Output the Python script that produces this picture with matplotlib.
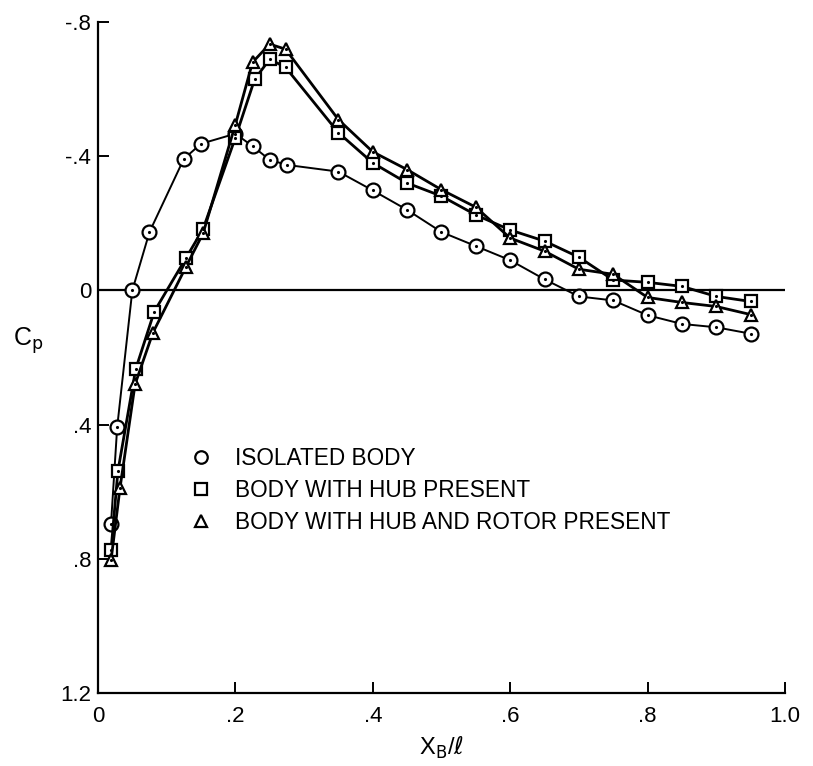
import matplotlib
matplotlib.use('Agg')
from matplotlib import pyplot as plt
from matplotlib.lines import Line2D

# isolated body (circles)
x_iso = [0.019, 0.028, 0.05, 0.075, 0.125, 0.15, 0.2, 0.225, 0.25, 0.275, 0.35, 0.4,
         0.45, 0.5, 0.55, 0.6, 0.65, 0.7, 0.75, 0.8, 0.85, 0.9, 0.95]
cp_iso = [0.695, 0.407, 0.0, -0.174, -0.392, -0.437, -0.467, -0.43, -0.389, -0.374, -0.354, -0.298,
          -0.24, -0.174, -0.132, -0.09, -0.033, 0.018, 0.03, 0.074, 0.10, 0.11, 0.129]

# body with hub present (squares)
x_hub = [0.019, 0.029, 0.055, 0.082, 0.128, 0.153, 0.2, 0.228, 0.25, 0.273, 0.35, 0.4,
         0.45, 0.5, 0.55, 0.6, 0.65, 0.7, 0.75, 0.8, 0.85, 0.9, 0.95]
cp_hub = [0.775, 0.539, 0.234, 0.063, -0.096, -0.183, -0.455, -0.629, -0.689, -0.665, -0.47, -0.38,
          -0.32, -0.281, -0.225, -0.18, -0.147, -0.099, -0.031, -0.024, -0.012, 0.018, 0.033]

# body with hub and rotor present (triangles)
x_rot = [0.019, 0.032, 0.054, 0.08, 0.128, 0.153, 0.2, 0.225, 0.25, 0.273, 0.35, 0.4,
         0.45, 0.5, 0.55, 0.6, 0.65, 0.7, 0.75, 0.8, 0.85, 0.9, 0.95]
cp_rot = [0.805, 0.59, 0.28, 0.126, -0.07, -0.17, -0.494, -0.68, -0.734, -0.719, -0.509, -0.413,
          -0.36, -0.30, -0.248, -0.156, -0.117, -0.063, -0.048, 0.021, 0.036, 0.048, 0.072]

labels = ['ISOLATED BODY', 'BODY WITH HUB PRESENT', 'BODY WITH HUB AND ROTOR PRESENT']
xticks = [0, 0.2, 0.4, 0.6, 0.8, 1.0]
xticklabels = ['0', '.2', '.4', '.6', '.8', '1.0']
yticks = [-0.8, -0.4, 0, 0.4, 0.8, 1.2]
yticklabels = ['-.8', '-.4', '0', '.4', '.8', '1.2']

plt.rcParams['font.family'] = ['Liberation Sans', 'DejaVu Sans']

fig = plt.figure(figsize=(8.13, 7.66), dpi=100)
ax = fig.add_axes([0.1205, 0.0953, 0.845, 0.876])

# zero line
ax.axhline(0, color='black', lw=1.6, zorder=1)

series = [(x_iso, cp_iso, 'o', 10, 1.4),
          (x_hub, cp_hub, 's', 9, 2.0),
          (x_rot, cp_rot, '^', 9, 2.0)]
for xs, ys, m, ms, lw in series:
    ax.plot(xs, ys, color='black', lw=lw, marker=m, ms=ms, mfc='white',
            mec='black', mew=1.6, zorder=3)
    # little dot in the middle of every symbol
    ax.plot(xs, ys, ls='none', marker='.', ms=2.5, color='black', zorder=4)

ax.set_xlim(0, 1.0)
ax.set_ylim(1.2, -0.8)
ax.set_xticks(xticks)
ax.set_xticklabels(xticklabels)
ax.set_yticks(yticks)
ax.set_yticklabels(yticklabels)
ax.tick_params(axis='both', direction='in', length=8, width=1.4, labelsize=16)
ax.tick_params(axis='x', pad=9)
ax.tick_params(axis='y', pad=5)

ax.spines['top'].set_visible(False)
ax.spines['right'].set_visible(False)
ax.spines['left'].set_linewidth(1.6)
ax.spines['bottom'].set_linewidth(1.6)

ax.set_xlabel(r'X$_\mathrm{B}$/$\ell$', fontsize=17, labelpad=6)
fig.text(0.016, 0.555, r'C$_\mathrm{p}$', fontsize=18, ha='left', va='center')

handles = [Line2D([], [], ls='none', marker=m, ms=s, mfc='white', mec='black', mew=1.6)
           for m, s in [('o', 9), ('s', 9), ('^', 9)]]
ax.legend(handles, labels, loc='upper left', bbox_to_anchor=(0.12, 0.38),
          frameon=False, fontsize=16.3, handlelength=1.0, handletextpad=1.0,
          labelspacing=0.4, borderaxespad=0)

fig.savefig('out.png', dpi=100)
